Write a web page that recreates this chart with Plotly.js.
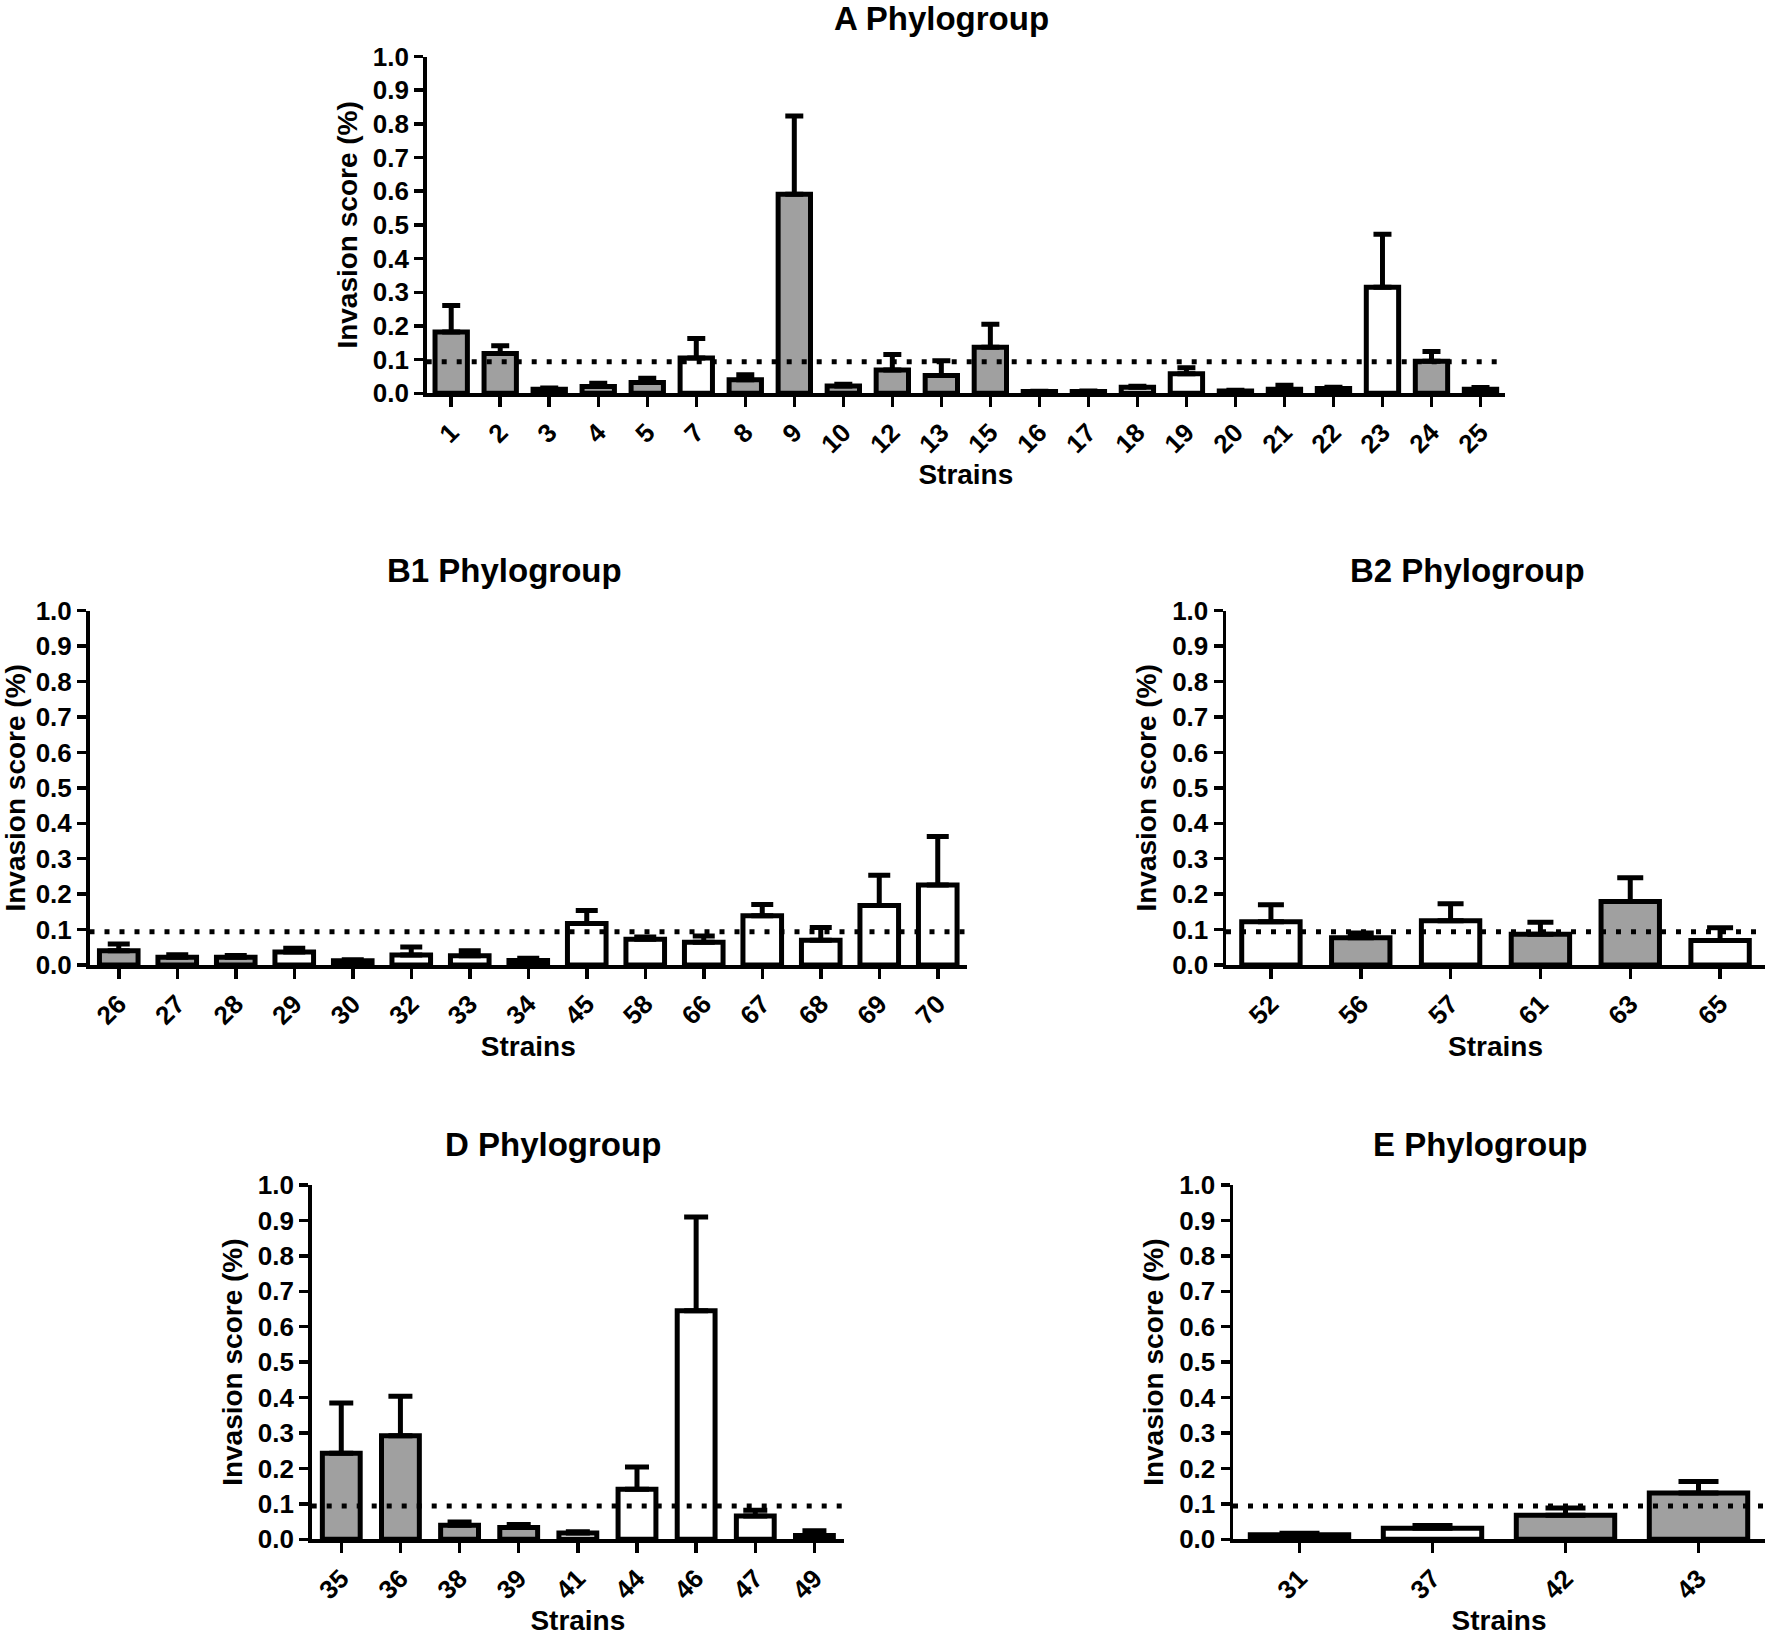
<!DOCTYPE html>
<html>
<head>
<meta charset="utf-8">
<script src="https://cdn.plot.ly/plotly-3.0.1.min.js"></script>
<style>
html,body{margin:0;padding:0;background:#fff;}
#chart{width:1773px;height:1641px;}
</style>
</head>
<body>
<div id="chart"></div>
<script>
// ---------- DATA ----------
// group: 1 = grey bar, 0 = white bar
const aStrains = ['1','2','3','4','5','7','8','9','10','12','13','15','16','17','18','19','20','21','22','23','24','25'];
const aMeans   = [0.182,0.118,0.012,0.020,0.032,0.105,0.040,0.591,0.022,0.069,0.053,0.137,0.005,0.005,0.018,0.058,0.007,0.012,0.014,0.315,0.095,0.012];
const aErr     = [0.079,0.023,0.004,0.010,0.013,0.058,0.015,0.232,0.005,0.046,0.044,0.068,0.001,0.002,0.003,0.018,0.002,0.012,0.004,0.157,0.029,0.005];
const aGroup   = [1,1,1,1,1,0,1,1,1,1,1,1,1,1,0,0,1,1,1,0,1,1];

const b1Strains = ['26','27','28','29','30','32','33','34','45','58','66','67','68','69','70'];
const b1Means   = [0.040,0.022,0.022,0.037,0.012,0.028,0.026,0.013,0.117,0.073,0.064,0.139,0.070,0.168,0.226];
const b1Err     = [0.019,0.007,0.005,0.010,0.003,0.023,0.014,0.006,0.037,0.006,0.018,0.032,0.036,0.085,0.137];
const b1Group   = [1,1,1,0,1,0,0,0,0,0,0,0,0,0,0];

const b2Strains = ['52','56','57','61','63','65'];
const b2Means   = [0.122,0.077,0.125,0.087,0.179,0.069];
const b2Err     = [0.048,0.013,0.048,0.034,0.067,0.036];
const b2Group   = [0,1,0,1,1,0];

const dStrains = ['35','36','38','39','41','44','46','47','49'];
const dMeans   = [0.243,0.292,0.040,0.033,0.018,0.141,0.645,0.066,0.011];
const dErr     = [0.142,0.112,0.009,0.009,0.003,0.063,0.265,0.016,0.013];
const dGroup   = [1,1,1,1,0,0,0,0,1];

const eStrains = ['31','37','42','43'];
const eMeans   = [0.013,0.031,0.068,0.131];
const eErr     = [0.004,0.008,0.020,0.032];
const eGroup   = [1,0,1,1];

const threshold = 0.094;
const yTickVals = [0,0.1,0.2,0.3,0.4,0.5,0.6,0.7,0.8,0.9,1.0];
const xTitle = 'Strains';
const yTitle = 'Invasion score (%)';

// ---------- LAYOUT ----------
const W = 1773, H = 1641;
const FONT = 'Liberation Sans, Arial, Helvetica, sans-serif';
const GREY = '#a0a0a0';

const panels = [
  {title:'A Phylogroup',  s:aStrains,  m:aMeans,  e:aErr,  g:aGroup,  px:[426.7,1505], py:[56.5,393.3],  bw:0.66, cap:9,  tx:942,    ty:19},
  {title:'B1 Phylogroup', s:b1Strains, m:b1Means, e:b1Err, g:b1Group, px:[89.5,967],   py:[610.7,965],   bw:0.66, cap:11, tx:504,    ty:570},
  {title:'B2 Phylogroup', s:b2Strains, m:b2Means, e:b2Err, g:b2Group, px:[1226,1765],  py:[610.7,965],   bw:0.65, cap:13, tx:1467,   ty:570},
  {title:'D Phylogroup',  s:dStrains,  m:dMeans,  e:dErr,  g:dGroup,  px:[311.7,844],  py:[1185,1539.3], bw:0.64, cap:12, tx:553,    ty:1144},
  {title:'E Phylogroup',  s:eStrains,  m:eMeans,  e:eErr,  g:eGroup,  px:[1233,1765],  py:[1185,1539.3], bw:0.74, cap:20, tx:1480,   ty:1144}
];

const traces = [];
const layout = {
  width: W, height: H,
  margin: {l:0, r:0, t:0, b:0},
  paper_bgcolor: '#fff', plot_bgcolor: 'rgba(0,0,0,0)',
  showlegend: false,
  font: {family: FONT, color: '#000', weight: 'bold'},
  shapes: [], annotations: []
};

panels.forEach((p, i) => {
  const n = i === 0 ? '' : String(i + 1);
  traces.push({
    type: 'bar',
    x: p.s, y: p.m,
    xaxis: 'x' + n, yaxis: 'y' + n,
    width: p.bw,
    marker: {color: p.g.map(v => v ? GREY : '#ffffff'), line: {color: '#000', width: 5}},
    error_y: {type: 'data', symmetric: false, array: p.e, arrayminus: p.e.map(() => 0),
              color: '#000', thickness: 5, width: p.cap},
    hoverinfo: 'skip'
  });
  const xd = [p.px[0] / W, p.px[1] / W];
  const yd = [1 - p.py[1] / H, 1 - p.py[0] / H];
  layout['xaxis' + n] = {
    domain: xd, anchor: 'y' + n, type: 'category',
    range: [-0.5, p.s.length - 0.5],
    showline: true, linecolor: '#000', linewidth: 3.5,
    ticks: 'outside', ticklen: 10, tickwidth: 3.5, tickcolor: '#000',
    tickangle: -45,
    tickfont: {family: FONT, size: 26, color: '#000', weight: 'bold'},
    title: {text: xTitle, font: {family: FONT, size: 28, color: '#000', weight: 'bold'}, standoff: 4},
    showgrid: false, zeroline: false, fixedrange: true, automargin: false
  };
  layout['yaxis' + n] = {
    domain: yd, anchor: 'x' + n,
    range: [0, 1], tickmode: 'array', tickvals: yTickVals, tickformat: '.1f',
    showline: true, linecolor: '#000', linewidth: 3.5,
    ticks: 'outside', ticklen: 9, tickwidth: 3.5, tickcolor: '#000',
    tickfont: {family: FONT, size: 26, color: '#000', weight: 'bold'},
    title: {text: yTitle, font: {family: FONT, size: 28, color: '#000', weight: 'bold'}, standoff: 8},
    showgrid: false, zeroline: false, fixedrange: true, automargin: false
  };
  layout.shapes.push({
    type: 'line', layer: 'above',
    xref: 'x' + n + ' domain', yref: 'y' + n,
    x0: 0, x1: 1, y0: threshold, y1: threshold,
    line: {color: '#000', width: 5, dash: '5px,10px'}
  });
  layout.annotations.push({
    text: p.title, xref: 'paper', yref: 'paper',
    x: p.tx / W, y: 1 - p.ty / H, xanchor: 'center', yanchor: 'middle',
    showarrow: false,
    font: {family: FONT, size: 33, color: '#000', weight: 'bold'}
  });
});

Plotly.newPlot('chart', traces, layout, {staticPlot: true, displayModeBar: false});
</script>
</body>
</html>
